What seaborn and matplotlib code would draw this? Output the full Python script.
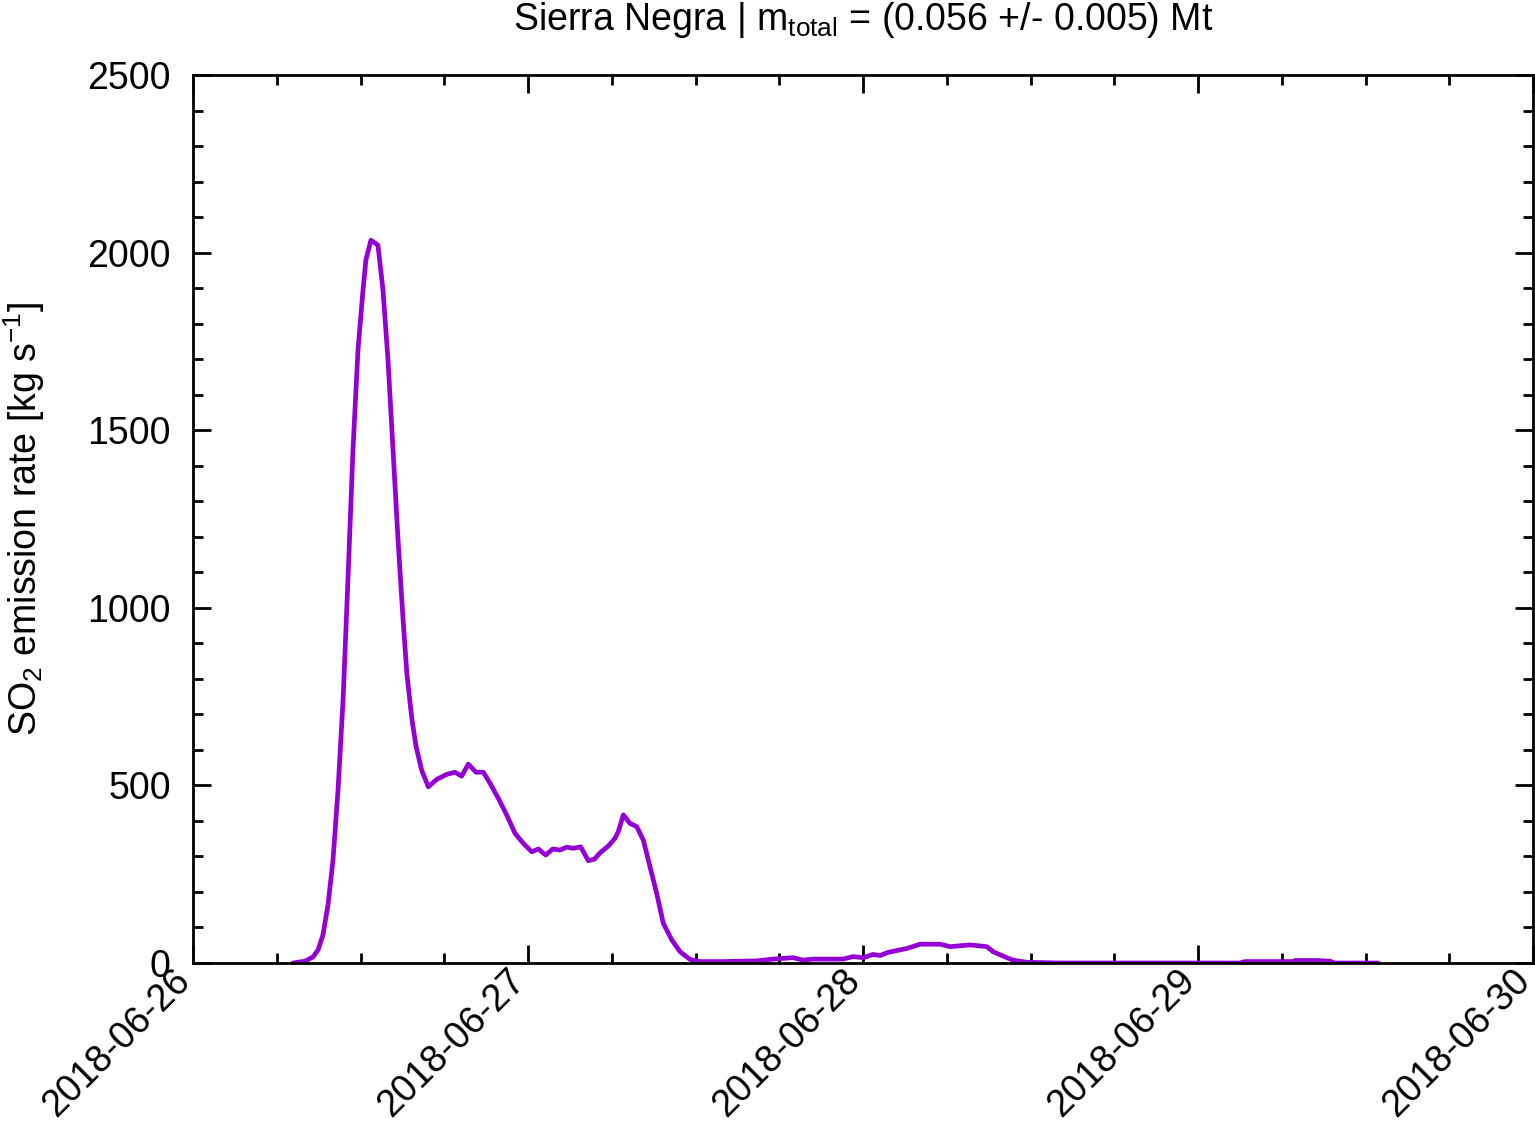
import matplotlib
matplotlib.use("Agg")
import matplotlib.pyplot as plt
import matplotlib.dates as mdates
import matplotlib.transforms as mtransforms
import seaborn as sns
import pandas as pd
import numpy as np

# hours since 2018-06-26 00:00
hours = [7.16, 8.02, 8.60, 8.96, 9.31, 9.67, 10.03, 10.39, 10.75, 11.10, 11.46, 11.82,
         12.18, 12.39, 12.75, 13.25, 13.61, 13.97, 14.33, 14.69, 15.05, 15.33, 15.69,
         15.98, 16.38, 16.86, 17.46, 18.18, 18.77, 19.25, 19.72, 20.28, 20.80, 21.28,
         21.87, 22.47, 23.07, 23.66, 24.27, 24.74, 25.27, 25.77, 26.29, 26.77, 27.25,
         27.78, 28.32, 28.75, 29.16, 29.75, 30.23, 30.47, 30.83, 31.31, 31.79, 32.26,
         32.74, 33.22, 33.69, 34.30, 34.89, 35.61, 36.32, 37.97, 40.41, 41.55, 42.99,
         43.71, 44.42, 46.57, 47.29, 48.00, 48.72, 49.22, 49.80, 51.16, 52.09, 53.52,
         54.23, 55.67, 56.88, 57.31, 57.82, 58.75, 59.75, 62.11, 75.01, 75.37, 76.44,
         78.81, 78.95, 80.03, 80.60, 81.46, 81.82, 84.90]
so2_rate = [0, 5, 17, 37, 79, 163, 290, 487, 740, 1078, 1444, 1726,
            1895, 1980, 2035, 2021, 1895, 1698, 1444, 1191, 966, 811, 684,
            610, 543, 496, 517, 531, 537, 526, 560, 537, 537, 506,
            464, 417, 365, 337, 313, 321, 304, 321, 318, 326, 323,
            327, 288, 292, 310, 329, 351, 370, 417, 393, 384, 346,
            271, 196, 112, 65, 32, 10, 4, 4, 6, 11, 15,
            8, 11, 11, 18, 15, 24, 21, 30, 41, 53, 53,
            46, 51, 46, 32, 23, 8, 2, 0, 0, 4, 4,
            4, 7, 7, 7, 5, 0, 0]

start = pd.Timestamp("2018-06-26")
df = pd.DataFrame({"time": start + pd.to_timedelta(hours, unit="h"), "rate": so2_rate})

sns.set_theme(style="white")
plt.rcParams["font.family"] = ["Liberation Sans", "DejaVu Sans"]
plt.rcParams["mathtext.default"] = "regular"
plt.rcParams["text.color"] = "black"
plt.rcParams["axes.labelcolor"] = "black"
plt.rcParams["xtick.color"] = "black"
plt.rcParams["ytick.color"] = "black"

fig = plt.figure(figsize=(15.35, 11.27), dpi=100)
ax = fig.add_axes([193 / 1535, 1 - 963 / 1127, (1533 - 193) / 1535, (963 - 75) / 1127])

sns.lineplot(data=df, x="time", y="rate", ax=ax, color="#9400D3", linewidth=3.4)

ax.set_xlim(pd.Timestamp("2018-06-26"), pd.Timestamp("2018-06-30"))
ax.set_ylim(0, 2500)
ax.set_yticks([0, 500, 1000, 1500, 2000, 2500])
ax.yaxis.set_minor_locator(matplotlib.ticker.MultipleLocator(100))
ax.xaxis.set_major_locator(mdates.DayLocator())
ax.xaxis.set_minor_locator(mdates.HourLocator(byhour=[6, 12, 18]))
ax.xaxis.set_major_formatter(mdates.DateFormatter("%Y-%m-%d"))

for s in ax.spines.values():
    s.set_visible(True)
    s.set_color("black")
    s.set_linewidth(2)

ax.tick_params(which="both", direction="in", top=True, right=True, bottom=True, left=True,
               color="black", width=2)
ax.tick_params(which="major", length=13, labelsize=27)
ax.tick_params(which="minor", length=7)
ax.tick_params(axis="y", which="major", pad=16)
ax.tick_params(axis="x", which="major", pad=9)
shift = mtransforms.ScaledTranslation(-8 / 100, 0, fig.dpi_scale_trans)
for lbl in ax.get_xticklabels():
    lbl.set_rotation(45)
    lbl.set_ha("right")
    lbl.set_va("center")
    lbl.set_rotation_mode("anchor")
    lbl.set_transform(lbl.get_transform() + shift)

ax.set_xlabel("")
ax.set_ylabel("SO$_2$ emission rate [kg s$^{-1}$]", fontsize=27, labelpad=29)
ax.set_title("Sierra Negra | m$_{total}$ = (0.056 +/- 0.005) Mt", fontsize=27,
             y=1 + 55 / 888, va="center", pad=0)

fig.savefig("out.png", dpi=100)
